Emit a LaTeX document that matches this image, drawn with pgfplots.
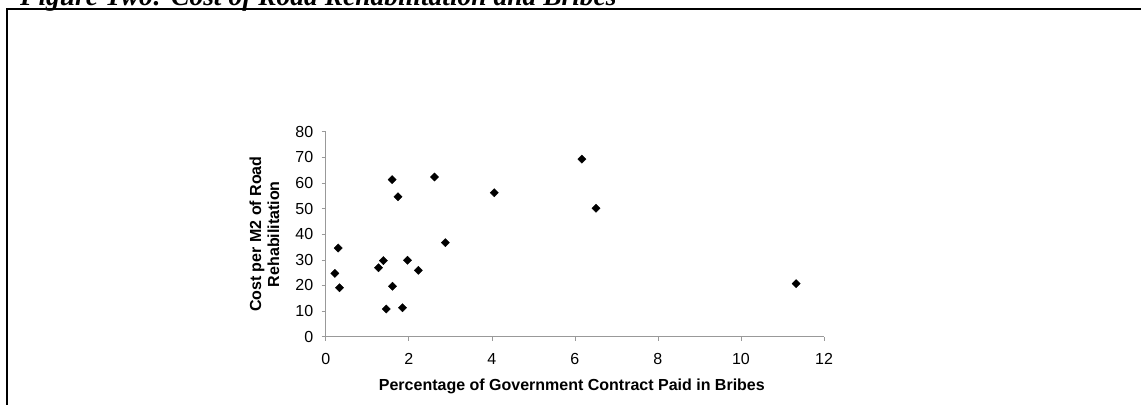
\documentclass[border=0pt]{standalone}
\usepackage{pgfplots}
\pgfplotsset{compat=1.18}
\usepackage{fontspec}
\setmainfont{Liberation Sans}
\newfontfamily\titlefont{Liberation Serif}
\pgfplotstableread{
x y
0.22 24.7
0.30 34.6
0.33 19.1
1.27 26.9
1.39 29.7
1.46 10.8
1.60 61.3
1.61 19.7
1.74 54.6
1.85 11.3
1.97 29.8
2.23 25.9
2.62 62.3
2.88 36.7
4.06 56.2
6.17 69.3
6.51 50.1
11.33 20.7
}\datatable
\begin{document}
\begin{tikzpicture}
\begin{axis}[
  at={(325.7bp,68.3bp)}, anchor=south west,
  scale only axis, width=498.3bp, height=205bp,
  xmin=0, xmax=12, ymin=0, ymax=80,
  xtick={0,2,...,12}, ytick={0,10,...,80},
  axis lines*=left,
  axis line style={-, draw=gray!80, line width=0.6bp},
  tick style={draw=gray!80, line width=0.6bp},
  tick align=outside, major tick length=4bp,
  font=\fontsize{16bp}{18bp}\selectfont,
  /pgf/number format/assume math mode=true,
  xticklabel style={yshift=-9bp},
  yticklabel style={xshift=-5bp},
  xlabel={\bfseries Percentage of Government Contract Paid in Bribes},
  ylabel={\bfseries Cost per M2 of Road\\ \bfseries Rehabilitation},
  xlabel style={at={(axis description cs:0.494,-0.244)}, anchor=center},
  ylabel style={at={(axis description cs:-0.123,0.5)}, anchor=center, align=center},
  clip=false,
]
\addplot[only marks, mark=square*, mark size=2.9bp, mark options={rotate=45, fill=black, draw=black}] table[x=x,y=y] {\datatable};
\end{axis}
\draw[line width=2bp] (7bp,-10bp) -- (7bp,396bp) -- (1160bp,396bp);
\node[anchor=base west, inner sep=0pt] at (20bp,399.5bp) {\titlefont\bfseries\itshape\fontsize{27.5bp}{30bp}\selectfont Figure Two: Cost of Road Rehabilitation and Bribes};
\pgfresetboundingbox
\useasboundingbox (0,0) rectangle (1141bp,405bp);
\end{tikzpicture}
\end{document}
